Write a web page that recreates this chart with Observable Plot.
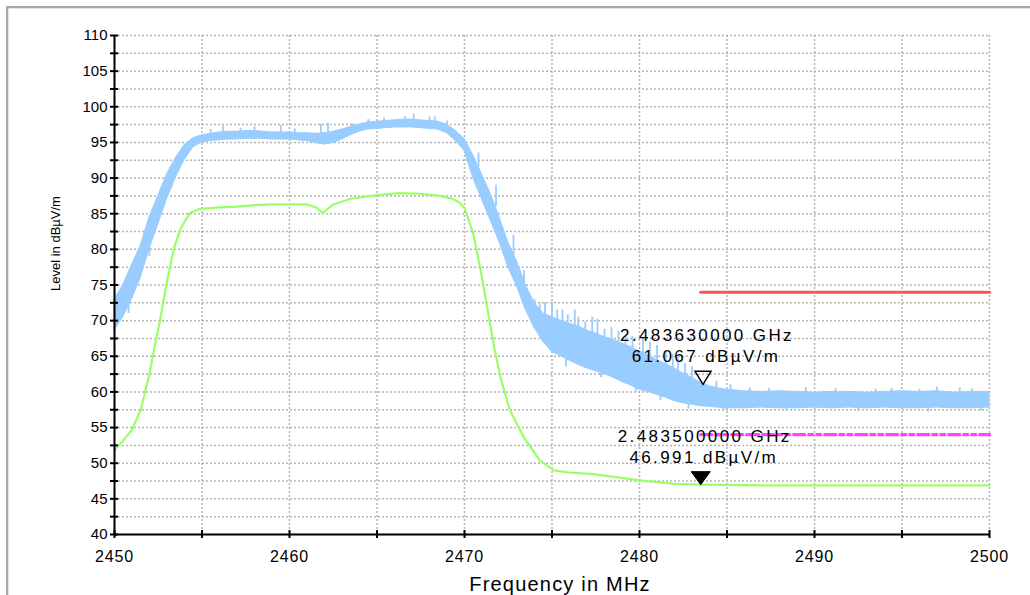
<!DOCTYPE html>
<html>
<head>
<meta charset="utf-8">
<script src="https://cdn.jsdelivr.net/npm/d3@7"></script>
<script src="https://cdn.jsdelivr.net/npm/@observablehq/plot@0.6"></script>
<style>
  html, body { margin: 0; padding: 0; background: #fff; overflow: hidden; }
  #wrap { position: relative; width: 1030px; height: 595px; }
  #frame { position: absolute; left: 6px; top: 6px; width: 1200px; height: 800px;
           border-top: 2px solid #a8a8a8; border-left: 2px solid #a8a8a8;
           box-shadow: inset 1px 1px 0 #e4e4e4; pointer-events: none; }
  #chart { position: absolute; left: 0; top: 0; }
</style>
</head>
<body>
<div id="wrap"><div id="frame"></div><div id="chart"></div></div>
<script>
// ---- Data ----
const xLabel = "Frequency in MHz";
const yLabel = "Level in dBµV/m";
const xLabelTicks = [2450, 2460, 2470, 2480, 2490, 2500];
const xMinorTicks = [2450, 2455, 2460, 2465, 2470, 2475, 2480, 2485, 2490, 2495, 2500];
const yLabelTicks = [40, 45, 50, 55, 60, 65, 70, 75, 80, 85, 90, 95, 100, 105, 110];
const yMinorTicks = [40, 42.5, 45, 47.5, 50, 52.5, 55, 57.5, 60, 62.5, 65, 67.5, 70, 72.5, 75, 77.5, 80, 82.5, 85, 87.5, 90, 92.5, 95, 97.5, 100, 102.5, 105, 107.5, 110];

// Peak trace (light blue), lower / upper envelope of the noisy band
const blueFreq = [2450, 2450.5, 2451, 2451.5, 2452, 2452.5, 2453, 2453.5, 2454, 2454.5,
  2455, 2455.5, 2456, 2456.5, 2457, 2457.5, 2458, 2458.5, 2459, 2459.5,
  2460, 2460.5, 2461, 2461.5, 2462, 2462.5, 2463, 2463.5, 2464, 2464.5,
  2465, 2465.5, 2466, 2466.5, 2467, 2467.5, 2468, 2468.5, 2469, 2469.5,
  2470, 2470.5, 2471, 2471.5, 2472, 2472.5, 2473, 2473.5, 2474, 2474.5,
  2475, 2475.5, 2476, 2476.5, 2477, 2477.5, 2478, 2478.5, 2479, 2479.5,
  2480, 2480.5, 2481, 2481.5, 2482, 2482.5, 2483, 2483.5, 2484, 2484.5,
  2485, 2486, 2487, 2488, 2489, 2490, 2491, 2492, 2493, 2494, 2495, 2496, 2497, 2498, 2499, 2500];
const blueLow = [68.6, 70.5, 73.0, 76.0, 80.0, 83.5, 87.0, 90.0, 92.5, 94.3,
  95.0, 95.2, 95.3, 95.4, 95.4, 95.5, 95.5, 95.5, 95.4, 95.4,
  95.4, 95.3, 95.2, 94.9, 94.7, 94.9, 95.4, 96.0, 96.5, 96.8,
  96.9, 97.0, 97.1, 97.1, 97.1, 97.0, 96.9, 96.8, 96.3, 95.2,
  93.8, 90.0, 87.0, 84.0, 81.0, 77.5, 74.8, 71.5, 69.0, 67.0,
  65.6, 65.0, 64.4, 63.8, 63.3, 62.9, 62.5, 62.0, 61.4, 60.9,
  60.3, 60.0, 59.6, 59.2, 58.7, 58.4, 58.2, 58.0, 57.9, 57.8,
  57.7, 57.7, 57.8, 57.7, 57.7, 57.8, 57.7, 57.8, 57.7, 57.8, 57.7, 57.7, 57.8, 57.7, 57.7, 57.8];
const blueHigh = [73.0, 75.0, 77.8, 80.5, 84.5, 87.5, 90.5, 92.8, 94.6, 95.6,
  96.0, 96.2, 96.4, 96.5, 96.5, 96.6, 96.6, 96.5, 96.4, 96.4,
  96.4, 96.3, 96.3, 96.2, 96.3, 96.5, 96.8, 97.2, 97.5, 97.8,
  97.9, 98.0, 98.1, 98.2, 98.2, 98.1, 98.0, 97.9, 97.5, 96.6,
  95.5, 93.2, 90.5, 87.8, 84.5, 81.0, 78.3, 75.0, 72.5, 71.0,
  70.5, 70.0, 69.6, 69.2, 68.6, 68.2, 67.7, 67.3, 66.8, 66.3,
  65.7, 65.1, 64.5, 63.9, 63.3, 62.6, 62.0, 61.3, 60.8, 60.5,
  60.3, 60.1, 60.0, 60.1, 60.0, 59.9, 60.0, 60.0, 59.9, 60.0, 60.1, 60.0, 60.1, 59.9, 60.0, 60.0];
// isolated spikes of the peak trace (up and down): frequency, from, to
const spikeFreq = [2450.3, 2450.8, 2451.2, 2451.6, 2452.0, 2452.4, 2453.2,
  2455.5, 2456.2, 2457.2, 2458.0, 2459.5, 2460.3, 2461.8, 2462.2, 2463.6, 2464.5, 2465.4,
  2466.6, 2467.1, 2468.0, 2468.3, 2469.0,
  2470.8, 2471.8, 2472.8, 2473.4,
  2474.0, 2474.3, 2474.6, 2475.0, 2475.3, 2475.6, 2475.8, 2475.9, 2476.3, 2476.5, 2476.9,
  2477.3, 2477.6, 2477.8, 2478.0, 2478.4, 2478.8, 2479.2, 2479.6, 2479.8, 2480.2, 2480.6,
  2481.0, 2481.2, 2481.5, 2481.9, 2482.2, 2482.6, 2482.8, 2483.0, 2483.63, 2484.4, 2484.8,
  2485.2, 2486.3, 2487.4, 2488.4, 2489.5, 2491.2, 2492.5, 2493.5, 2494.4, 2496.0, 2496.5,
  2497.0, 2498.3, 2499.0, 2499.5];
const spikeFrom = [72, 71, 76, 78, 79, 83, 89,
  95.8, 96, 96, 96, 96, 96, 95.5, 95.5, 96.5, 97, 97.4,
  97.5, 97.5, 97.5, 97.5, 97,
  91.5, 86, 79, 75,
  71, 70, 69, 68, 68, 68, 63.5, 67, 67, 67, 66,
  66, 65.5, 62, 65, 65, 64.5, 64, 63.5, 60, 63, 62.5,
  62, 58.8, 62, 61.5, 61, 61, 57.6, 60.5, 60, 59.5, 57.3,
  59, 59, 59, 57.3, 59, 59, 57.3, 59, 59, 59, 57.2,
  59, 59, 59, 57.3];
const spikeTo = [74, 73.5, 79, 81, 81.5, 86.5, 91.5,
  96.8, 97.3, 97, 97.2, 97.4, 96.9, 97.5, 97.7, 97.6, 98.2, 98.4,
  98.6, 99.0, 98.6, 98.6, 98.0,
  93.5, 89, 82, 77,
  73, 72.4, 72.5, 72.6, 71.5, 71.5, 66, 70.8, 71.5, 70.5, 69.8,
  70.5, 70.2, 64.5, 68.8, 69, 68.5, 68, 67.8, 62.5, 67.5, 67,
  66.5, 61, 65.5, 65.3, 64.8, 64, 59.5, 63.5, 61.07, 61.5, 58.5,
  61, 60.6, 60.5, 58.5, 60.6, 60.5, 58.5, 60.4, 60.5, 60.4, 58.5,
  60.7, 60.6, 60.4, 58.5];

// Average trace (light green)
const greenFreq = [2450, 2450.5, 2451, 2451.5, 2452, 2452.3, 2452.6, 2453, 2453.4, 2453.8,
  2454.3, 2454.9, 2456, 2457, 2458, 2459, 2460, 2461, 2461.5, 2461.9,
  2462.5, 2463.5, 2465, 2466.3, 2467.5, 2468.6, 2469.3, 2469.7, 2470, 2470.5,
  2470.9, 2471.3, 2471.7, 2472.1, 2472.6, 2473.4, 2474.3, 2475.1, 2476, 2477.2,
  2478.5, 2480, 2482, 2483.5, 2485, 2487, 2490, 2495, 2500];
const greenLevel = [51.8, 53.2, 54.7, 57.5, 62.5, 66.5, 70.0, 75.5, 80.2, 83.0,
  85.1, 85.7, 85.9, 86.0, 86.2, 86.3, 86.3, 86.3, 85.9, 85.1,
  86.3, 87.1, 87.6, 87.9, 87.8, 87.5, 87.1, 86.6, 85.8, 82.2,
  77.4, 71.8, 66.2, 61.6, 57.4, 53.6, 50.4, 49.0, 48.7, 48.5,
  48.1, 47.6, 47.1, 46.99, 46.95, 46.9, 46.9, 46.9, 46.9];

// Limit lines
const limitFreq = [2483.5, 2500];
const peakLimit = 74;
const avgLimit = 54;

// Markers
const markerFreq = [2483.63, 2483.5];
const markerLevel = [61.067, 46.991];
const markerFreqText = ["2.483630000 GHz", "2.483500000 GHz"];
const markerLevelText = ["61.067 dBµV/m", "46.991 dBµV/m"];

// ---- Build tables ----
const blueRows = blueFreq.map((f, i) => ({f, lo: blueLow[i], hi: blueHigh[i]}));
const spikeRows = spikeFreq.map((f, i) => ({f, lo: spikeFrom[i], hi: spikeTo[i]}));
const greenRows = greenFreq.map((f, i) => ({f, v: greenLevel[i]}));
const peakRows = limitFreq.map(f => ({f, v: peakLimit}));
const avgRows = limitFreq.map(f => ({f, v: avgLimit}));
const markers = markerFreq.map((f, i) => ({f, v: markerLevel[i], t1: markerFreqText[i], t2: markerLevelText[i]}));

const W = 1030, H = 595, ML = 114, MR = 41, MT = 35, MB = 61;
const PW = W - ML - MR, PH = H - MT - MB;

const openTri = {draw(c) { c.moveTo(0, 0); c.lineTo(-8, -13); c.lineTo(8, -13); c.closePath(); }};
const fillTri = {draw(c) { c.moveTo(0, 0); c.lineTo(-9.5, -13); c.lineTo(9.5, -13); c.closePath(); }};

const gridStyle = {stroke: "#b4b4b4", strokeOpacity: 1, strokeWidth: 1.5, strokeDasharray: "2,2"};

const chart = Plot.plot({
  width: W, height: H,
  marginLeft: ML, marginRight: MR, marginTop: MT, marginBottom: MB,
  x: {domain: [2450, 2500]},
  y: {domain: [40, 110]},
  style: {fontFamily: "'Liberation Sans', Arial, sans-serif", background: "transparent", color: "#000", overflow: "visible"},
  marks: [
    Plot.gridY(yMinorTicks, gridStyle),
    Plot.gridX(xMinorTicks, gridStyle),
    Plot.areaY(blueRows, {x: "f", y1: "lo", y2: "hi", fill: "#99ccff", stroke: "#99ccff", strokeWidth: 1}),
    Plot.ruleX(spikeRows, {x: "f", y1: "lo", y2: "hi", stroke: "#99ccff", strokeWidth: 1.8}),
    Plot.line(greenRows, {x: "f", y: "v", stroke: "#99ff66", strokeWidth: 2.2}),
    Plot.line(peakRows, {x: "f", y: "v", stroke: "#ff5252", strokeWidth: 3}),
    Plot.line(avgRows, {x: "f", y: "v", stroke: "#ff44ff", strokeWidth: 3.3, strokeDasharray: "11,4,4,4,4,4"}),
    // axis lines
    Plot.ruleX([2450], {stroke: "#000", strokeWidth: 2}),
    Plot.ruleY([40], {stroke: "#000", strokeWidth: 2}),
    // crossing ticks
    Plot.tickY(yMinorTicks, {y: d => d, stroke: "#000", strokeWidth: 2, insetLeft: -4, insetRight: PW - 4}),
    Plot.tickX(xMinorTicks, {x: d => d, stroke: "#000", strokeWidth: 2, insetTop: PH - 4, insetBottom: -4}),
    // tick labels
    Plot.axisY({ticks: yLabelTicks, tickSize: 0, tickPadding: 7, fontSize: 15, label: null, tickFormat: d => String(d)}),
    Plot.axisX({ticks: xLabelTicks, tickSize: 0, tickPadding: 16, fontSize: 16, label: null, tickFormat: d => String(d)}),
    // axis titles
    Plot.text([yLabel], {frameAnchor: "left", rotate: -90, dx: -59, dy: 6, fontSize: 13, fill: "#000"}),
    Plot.text([xLabel], {frameAnchor: "bottom", lineAnchor: "bottom", dx: 8, dy: 56, fontSize: 20, fill: "#000", className: "xtitle"}),
    // markers
    Plot.dot([markers[0]], {x: "f", y: "v", symbol: openTri, r: 5, fill: "none", stroke: "#000", strokeWidth: 1.5}),
    Plot.dot([markers[1]], {x: "f", y: "v", symbol: fillTri, r: 5, fill: "#000", stroke: "#000", strokeWidth: 1}),
    Plot.text(markers, {x: "f", y: "v", text: "t1", lineAnchor: "bottom", dx: 4, dy: -43, fontSize: 17, fill: "#000", className: "mtext"}),
    Plot.text(markers, {x: "f", y: "v", text: "t2", lineAnchor: "bottom", dx: 3, dy: -22, fontSize: 17, fill: "#000", className: "mtext"})
  ]
});
document.getElementById("chart").appendChild(chart);

// letter spacing to match the wide label font
d3.select(chart).selectAll(".mtext text").style("letter-spacing", "2.4px");
d3.select(chart).selectAll(".xtitle text").style("letter-spacing", "1.2px");
d3.select(chart).selectAll('g[aria-label="x-axis tick label"] text').style("letter-spacing", "0.8px");
</script>
</body>
</html>
